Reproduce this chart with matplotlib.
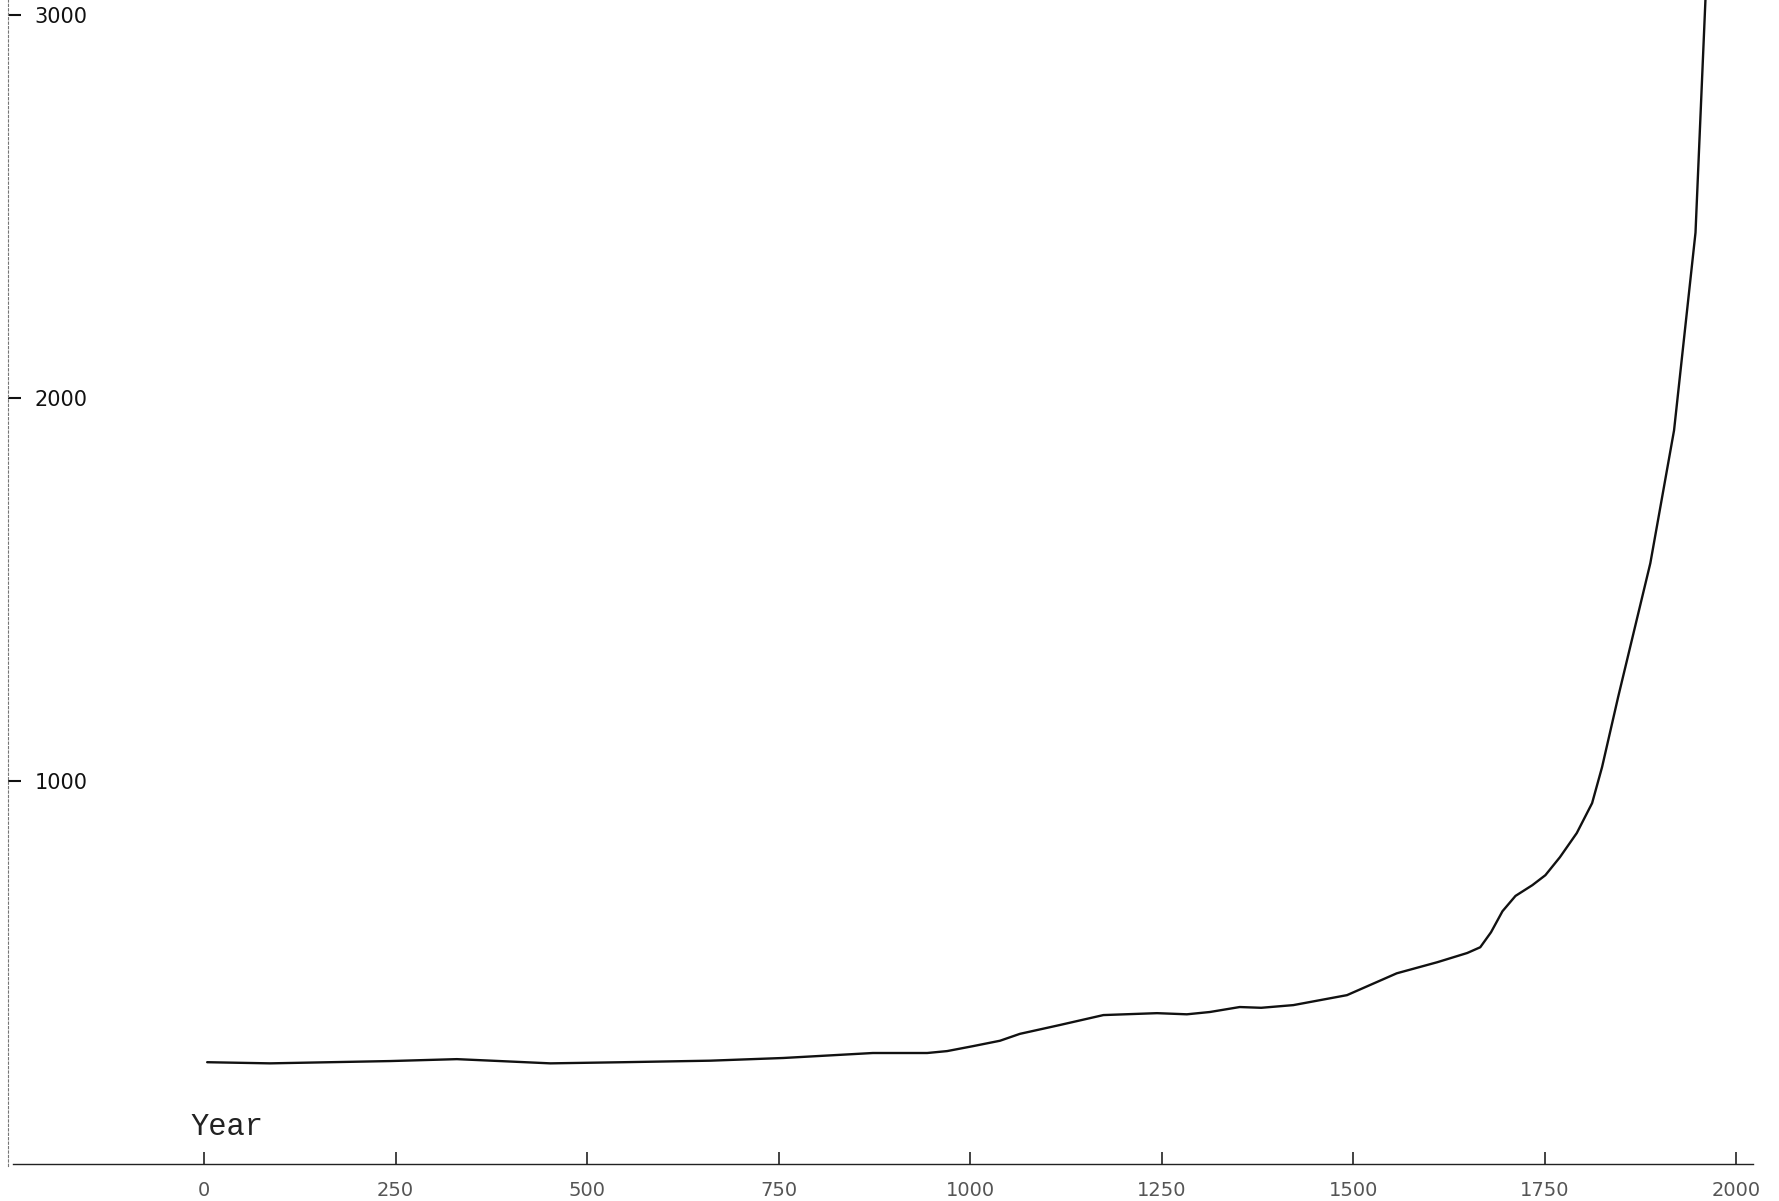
import matplotlib
matplotlib.use("Agg")
import matplotlib.pyplot as plt

# world population (millions)
years = [4, 86, 243, 330, 386, 452, 547, 661, 756, 873, 944, 970, 1004, 1039,
         1065, 1117, 1174, 1244, 1283, 1313, 1352, 1380, 1422, 1492, 1557, 1610,
         1649, 1666, 1680, 1695, 1712, 1734, 1751, 1770, 1792, 1812, 1825, 1846,
         1888, 1919, 1947, 1960]
population = [266, 263, 269, 274, 269, 263, 266, 270, 277, 290, 290, 295, 308, 322,
              340, 363, 389, 394, 391, 397, 410, 408, 415, 441, 498, 527,
              551, 566, 605, 660, 700, 728, 754, 801, 864, 942, 1036, 1219,
              1568, 1915, 2431, 3040]

x_ticks = [0, 250, 500, 750, 1000, 1250, 1500, 1750, 2000]
x_tick_labels = ["0", "250", "500", "750", "1000", "1250", "1500", "1750", "2000"]
y_ticks = [1000, 2000, 3000]
y_tick_labels = ["1000", "2000", "3000"]

fig = plt.figure(figsize=(17.79, 12.01), dpi=100)
ax = fig.add_axes([0.0045, 0.0291, 0.9955, 0.9709])

ax.plot(years, population, color="#111111", linewidth=1.7,
        solid_joinstyle="round", solid_capstyle="round")

ax.set_xlim(-256, 2056)
ax.set_ylim(-5, 3038)

for side in ["top", "right"]:
    ax.spines[side].set_visible(False)
ax.spines["left"].set_linestyle((0, (2, 2)))
ax.spines["left"].set_color("#777777")
ax.spines["left"].set_linewidth(0.8)
ax.spines["bottom"].set_position(("data", 0))
ax.spines["bottom"].set_bounds(-250, 2022)
ax.spines["bottom"].set_color("#222222")
ax.spines["bottom"].set_linewidth(1.0)

ax.set_xticks(x_ticks)
ax.set_xticklabels(x_tick_labels, fontsize=14, color="#555555")
ax.tick_params(axis="x", direction="in", length=9, width=1.2, color="#222222", pad=12)

ax.set_yticks(y_ticks)
ax.set_yticklabels(y_tick_labels, fontsize=15, color="#111111")
ax.tick_params(axis="y", direction="in", length=9, width=1.5, color="#111111", pad=-19)
for lbl in ax.get_yticklabels():
    lbl.set_horizontalalignment("left")

ax.set_xlabel("Year", family=["Liberation Mono", "DejaVu Sans Mono"], fontsize=22,
              color="#222222", ha="left")
ax.xaxis.set_label_coords(0.103, 0.046)

fig.savefig("out.png", dpi=100)
